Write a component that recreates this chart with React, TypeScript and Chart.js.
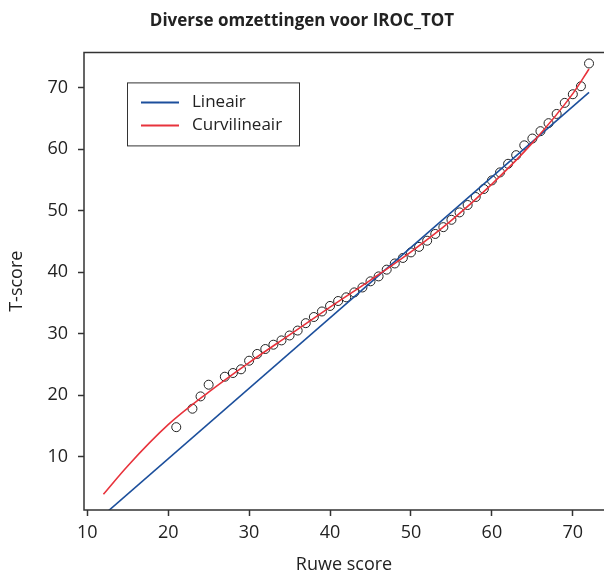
import React, { useEffect, useRef } from 'react';
import { Chart, registerables } from 'chart.js';

Chart.register(...registerables);

// Observed (raw score, T-score) pairs
const rawScores = [
  21, 23, 24, 25, 27, 28, 29, 30, 31, 32, 33, 34, 35, 36, 37, 38, 39, 40, 41, 42, 43, 44, 45, 46, 47, 48, 49,
  50, 51, 52, 53, 54, 55, 56, 57, 58, 59, 60, 61, 62, 63, 64, 65, 66, 67, 68, 69, 70, 71, 72,
];
const observedT = [
  14.8, 17.8, 19.8, 21.7, 23.0, 23.6, 24.2, 25.6, 26.7, 27.5, 28.2, 28.9, 29.7, 30.5, 31.7, 32.7, 33.6, 34.5,
  35.3, 35.9, 36.7, 37.5, 38.5, 39.3, 40.4, 41.4, 42.3, 43.2, 44.1, 45.1, 46.2, 47.3, 48.5, 49.7, 50.9, 52.2,
  53.5, 54.9, 56.2, 57.6, 59.0, 60.6, 61.7, 62.9, 64.2, 65.7, 67.5, 68.9, 70.2, 73.9,
];

// Linear conversion (end points)
const linearX = [12, 72];
const linearY = [0.5, 69.2];

// Curvilinear conversion (read at sample raw scores)
const curveX = [12, 15, 20, 25, 30, 35, 40, 45, 50, 55, 60, 65, 70, 72];
const curveY = [3.9, 8.5, 15.2, 20.5, 25.3, 29.8, 34.3, 38.7, 43.3, 48.4, 54.3, 61.0, 69.0, 73.0];

const xTicks = [10, 20, 30, 40, 50, 60, 70];
const yTicks = [10, 20, 30, 40, 50, 60, 70];

const seriesLabels = ['Lineair', 'Curvilineair'];
const titleText = 'Diverse omzettingen voor IROC_TOT';
const xTitle = 'Ruwe score';
const yTitle = 'T-score';

const BLUE = '#1c4f9c';
const RED = '#e8333c';
const INK = '#222222';
const FONT = '"Open Sans", sans-serif';

const framePlugin = {
  id: 'frame',
  afterDatasetsDraw(chart: any) {
    const { ctx, chartArea } = chart;
    ctx.save();
    ctx.strokeStyle = '#333333';
    ctx.lineWidth = 1.5;
    ctx.beginPath();
    ctx.moveTo(chartArea.right + 2, chartArea.top);
    ctx.lineTo(chartArea.left, chartArea.top);
    ctx.lineTo(chartArea.left, chartArea.bottom);
    ctx.lineTo(chartArea.right + 2, chartArea.bottom);
    ctx.stroke();
    ctx.restore();
  },
};

const legendPlugin = {
  id: 'insideLegend',
  afterDraw(chart: any) {
    const { ctx, chartArea } = chart;
    const x0 = chartArea.left + 43;
    const y0 = chartArea.top + 30;
    const w = 172;
    const h = 63;
    ctx.save();
    ctx.fillStyle = '#ffffff';
    ctx.fillRect(x0, y0, w, h);
    ctx.strokeStyle = '#333333';
    ctx.lineWidth = 1;
    ctx.strokeRect(x0 + 0.5, y0 + 0.5, w, h);
    const colors = [BLUE, RED];
    seriesLabels.forEach((lab, i) => {
      const y = y0 + 20 + i * 23;
      ctx.strokeStyle = colors[i];
      ctx.lineWidth = 2;
      ctx.beginPath();
      ctx.moveTo(x0 + 14, y);
      ctx.lineTo(x0 + 52, y);
      ctx.stroke();
      ctx.fillStyle = INK;
      ctx.font = `17px ${FONT}`;
      ctx.textBaseline = 'middle';
      ctx.textAlign = 'left';
      ctx.fillText(lab, x0 + 65, y);
    });
    ctx.restore();
  },
};

export default function App() {
  const ref = useRef<HTMLCanvasElement | null>(null);

  useEffect(() => {
    document.body.style.margin = '0';
    if (!ref.current) return;
    const chart = new Chart(ref.current, {
      type: 'scatter',
      data: {
        datasets: [
          {
            label: seriesLabels[1],
            type: 'line',
            data: curveX.map((x, i) => ({ x, y: curveY[i] })),
            borderColor: RED,
            borderWidth: 1.6,
            pointRadius: 0,
            fill: false,
            tension: 0.4,
            cubicInterpolationMode: 'monotone',
            order: 0,
          } as any,
          {
            label: seriesLabels[0],
            type: 'line',
            data: linearX.map((x, i) => ({ x, y: linearY[i] })),
            borderColor: BLUE,
            borderWidth: 1.6,
            pointRadius: 0,
            fill: false,
            order: 1,
          } as any,
          {
            label: 'Observed',
            data: rawScores.map((x, i) => ({ x, y: observedT[i] })),
            pointRadius: 4.5,
            pointBorderColor: '#222222',
            pointBackgroundColor: 'rgba(0,0,0,0)',
            pointBorderWidth: 1,
            showLine: false,
            order: 2,
          } as any,
        ],
      },
      options: {
        responsive: false,
        animation: false,
        layout: { autoPadding: false, padding: { top: 0, left: 0, right: 0, bottom: 0 } },
        plugins: {
          legend: { display: false },
          tooltip: { enabled: false },
          title: {
            display: true,
            text: titleText,
            color: INK,
            font: { family: FONT, size: 17, weight: 'bold' },
            padding: { top: 11, bottom: 21 },
          },
        },
        scales: {
          x: {
            type: 'linear',
            min: 9.6,
            max: 73.85,
            afterBuildTicks: (scale: any) => {
              scale.ticks = xTicks.map((v) => ({ value: v }));
            },
            afterFit: (scale: any) => {
              scale.height = 66;
              scale.paddingLeft = 0;
              scale.paddingRight = 0;
            },
            ticks: { color: INK, font: { family: FONT, size: 18 }, padding: 6, maxRotation: 0 },
            grid: { drawOnChartArea: false, drawTicks: true, tickLength: 6, tickColor: '#333333', tickWidth: 1.5 },
            border: { display: false },
            title: { display: true, text: xTitle, color: INK, font: { family: FONT, size: 18 }, padding: { top: 0, bottom: 0 } },
          },
          y: {
            type: 'linear',
            min: 1.34,
            max: 75.7,
            afterBuildTicks: (scale: any) => {
              scale.ticks = yTicks.map((v) => ({ value: v }));
            },
            afterFit: (scale: any) => {
              scale.width = 84;
              scale.paddingTop = 0;
              scale.paddingBottom = 0;
            },
            ticks: { color: INK, font: { family: FONT, size: 18 }, padding: 10 },
            grid: { drawOnChartArea: false, drawTicks: true, tickLength: 6, tickColor: '#333333', tickWidth: 1.5 },
            border: { display: false },
            title: { display: true, text: yTitle, color: INK, font: { family: FONT, size: 18 }, padding: { top: 6, bottom: 0 } },
          },
        },
      },
      plugins: [framePlugin, legendPlugin],
    });
    return () => chart.destroy();
  }, []);

  return (
    <div style={{ width: 604, height: 576 }}>
      <canvas ref={ref} width={604} height={576} style={{ display: 'block' }} />
    </div>
  );
}
